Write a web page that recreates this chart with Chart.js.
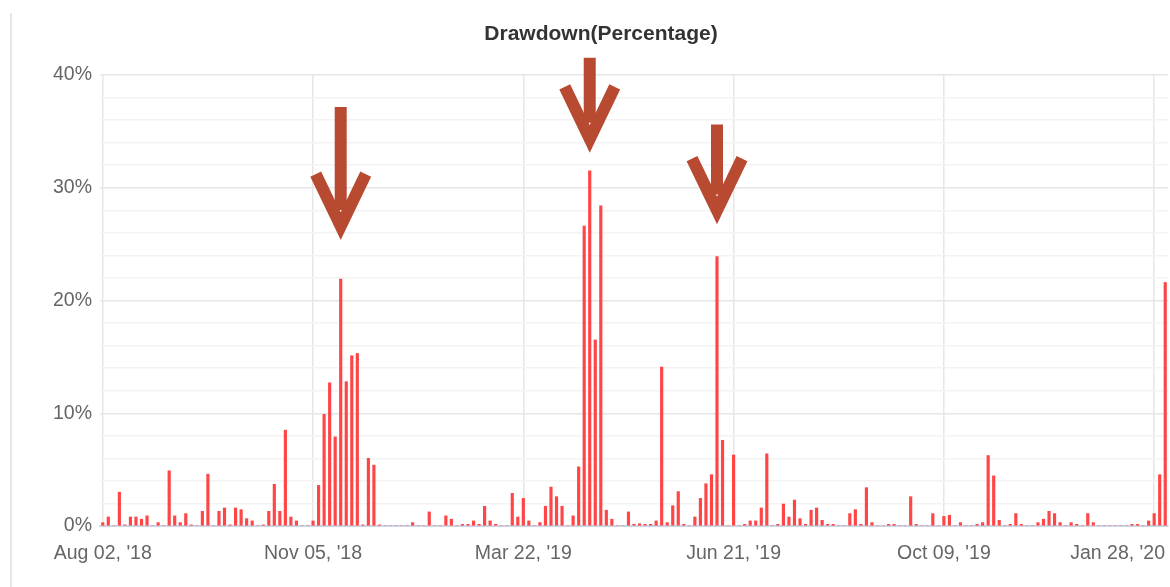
<!DOCTYPE html>
<html>
<head>
<meta charset="utf-8">
<title>Drawdown(Percentage)</title>
<script src="https://cdn.jsdelivr.net/npm/chart.js@4.4.1/dist/chart.umd.min.js"></script>
<style>
    html, body { margin: 0; padding: 0; background: #ffffff; }
    canvas { display: block; }
</style>
</head>
<body>
<canvas id="drawdownChart" width="1170" height="587"></canvas>
<script>
// Drawdown per period, in percent (left to right)
const drawdown = [
    0.3, 0.8, 0, 3.0, 0.1, 0.8, 0.8, 0.6, 0.9, 0,
    0.3, 0, 4.9, 0.9, 0.3, 1.1, 0.1, 0, 1.3, 4.6,
    0, 1.3, 1.6, 0.1, 1.6, 1.45, 0.65, 0.45, 0, 0.1,
    1.3, 3.7, 1.3, 8.5, 0.8, 0.45, 0, 0, 0.45, 3.6,
    9.9, 12.7, 7.9, 21.9, 12.8, 15.1, 15.3, 0.1, 6.0, 5.4,
    0.1, 0, 0, 0, 0, 0, 0.3, 0, 0, 1.25,
    0, 0, 0.9, 0.6, 0, 0.15, 0.15, 0.45, 0.15, 1.75,
    0.45, 0.15, 0, 0, 2.9, 0.8, 2.45, 0.45, 0, 0.3,
    1.75, 3.45, 2.6, 1.75, 0, 0.9, 5.25, 26.6, 31.5, 16.5,
    28.4, 1.4, 0.6, 0, 0, 1.25, 0.15, 0.2, 0.15, 0.15,
    0.45, 14.1, 0.3, 1.8, 3.05, 0.15, 0, 0.8, 2.45, 3.75,
    4.55, 23.9, 7.6, 0, 6.3, 0, 0.15, 0.45, 0.45, 1.6,
    6.4, 0, 0.15, 1.95, 0.8, 2.3, 0.65, 0.15, 1.4, 1.6,
    0.5, 0.15, 0.15, 0, 0, 1.1, 1.45, 0.15, 3.4, 0.3,
    0, 0, 0.15, 0.15, 0, 0, 2.6, 0.15, 0, 0,
    1.1, 0, 0.85, 0.95, 0, 0.3, 0, 0, 0.15, 0.3,
    6.25, 4.45, 0.5, 0, 0.15, 1.1, 0.15, 0, 0, 0.3,
    0.6, 1.3, 1.1, 0.3, 0, 0.3, 0.15, 0, 1.1, 0.3,
    0, 0, 0, 0, 0, 0, 0.15, 0.15, 0, 0.45,
    1.1, 4.55, 21.6
];

// One category per period
const categories = drawdown.map((_, i) => i);

// Date labels, one every tickEvery periods
const tickLabels = ["Aug 02, '18", "Nov 05, '18", "Mar 22, '19", "Jun 21, '19", "Oct 09, '19", "Jan 28, '20"];
const tickEvery = 38;

// Bars picked out with arrows
const markedBars = [43, 88, 111];

const FONT = '"Liberation Sans", Arial, Helvetica, sans-serif';

// Title, date labels, side rule and the arrows
const decorPlugin = {
    id: 'decor',
    afterDraw(chart, args, opts) {
        const ctx = chart.ctx;
        const xs = chart.scales.x;
        const ys = chart.scales.y;
        ctx.save();

        // left rule of the panel
        ctx.fillStyle = '#e6e6e6';
        ctx.fillRect(10, 13, 2, chart.height - 13);

        // title
        ctx.fillStyle = '#333333';
        ctx.font = 'bold 21px ' + FONT;
        ctx.textAlign = 'center';
        ctx.textBaseline = 'middle';
        ctx.fillText('Drawdown(Percentage)', 601, 34);

        // x labels, kept inside the right edge
        ctx.fillStyle = '#666666';
        ctx.font = '19.5px ' + FONT;
        ctx.textAlign = 'left';
        tickLabels.forEach((label, k) => {
            const w = ctx.measureText(label).width;
            let x = xs.getPixelForValue(k * tickEvery) - w / 2;
            x = Math.min(x, chart.width - 5 - w);
            ctx.fillText(label, x, xs.top + 28);
        });

        // arrows
        ctx.strokeStyle = opts.color;
        ctx.lineWidth = 12;
        ctx.lineCap = 'butt';
        ctx.lineJoin = 'miter';
        markedBars.forEach((idx, k) => {
            const tx = xs.getPixelForValue(idx);
            const ty = ys.getPixelForValue(drawdown[idx]) - opts.gap[k];
            ctx.beginPath();
            ctx.moveTo(tx, ty - opts.length[k]);
            ctx.lineTo(tx, ty - 30);
            ctx.stroke();
            ctx.beginPath();
            ctx.moveTo(tx - 25, ty - 66);
            ctx.lineTo(tx, ty - 14);
            ctx.lineTo(tx + 25, ty - 66);
            ctx.stroke();
        });

        ctx.restore();
    }
};

const ctx = document.getElementById('drawdownChart').getContext('2d');

const drawdownChart = new Chart(ctx, {
    type: 'bar',
    data: {
        labels: categories,
        datasets: [{
            label: 'Drawdown',
            data: drawdown,
            backgroundColor: '#ff4545',
            borderWidth: 0,
            barThickness: 2.5
        }]
    },
    options: {
        responsive: false,
        animation: false,
        layout: {
            padding: { top: 75, right: 2, left: 0, bottom: 0 }
        },
        plugins: {
            legend: { display: false },
            tooltip: { enabled: false },
            title: { display: false },
            decor: {
                color: '#b84a31',
                gap: [39, 18, 32],
                length: [133, 95, 100]
            }
        },
        scales: {
            x: {
                offset: true,
                grid: {
                    offset: false,
                    drawTicks: false,
                    lineWidth: 1.5,
                    color: (c) => c.index % tickEvery === 0 ? '#e6e6e6' : 'transparent'
                },
                border: { color: '#ccd6eb', width: 2 },
                ticks: { display: false, autoSkip: false },
                afterFit: (scale) => { scale.height = 61; }
            },
            y: {
                min: 0,
                max: 40,
                border: { display: false },
                grid: {
                    drawTicks: false,
                    lineWidth: 1.5,
                    color: (c) => {
                        if (c.tick.value === 0) return 'transparent';
                        return c.tick.value % 10 === 0 ? '#e6e6e6' : '#f3f3f3';
                    }
                },
                ticks: {
                    stepSize: 2,
                    autoSkip: false,
                    padding: 8,
                    color: '#666666',
                    font: { family: FONT, size: 19.5 },
                    callback: (v) => v % 10 === 0 ? v + '%' : ''
                },
                afterFit: (scale) => { scale.width = 100; }
            }
        }
    },
    plugins: [decorPlugin]
});
</script>
</body>
</html>
